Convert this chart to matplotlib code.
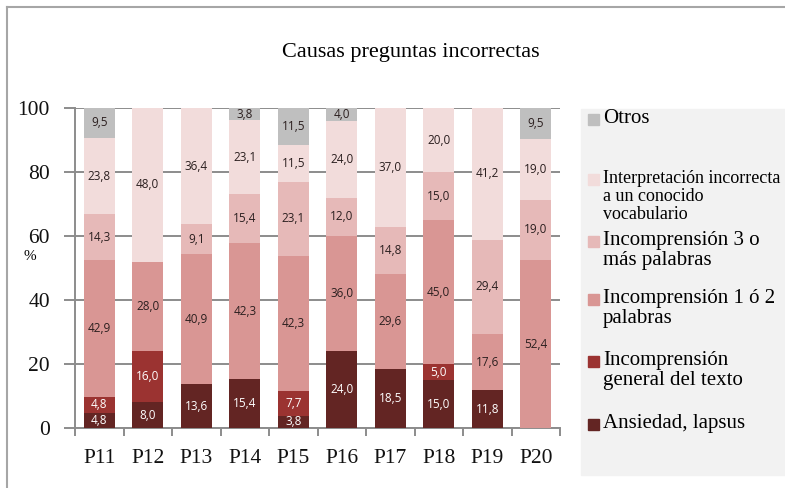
import numpy as np
import matplotlib.pyplot as plt
from matplotlib.patches import Rectangle
from matplotlib.lines import Line2D

# Data (%)
preguntas = ['P11', 'P12', 'P13', 'P14', 'P15', 'P16', 'P17', 'P18', 'P19', 'P20']
ansiedad = [4.8, 8.0, 13.6, 15.4, 3.8, 24.0, 18.5, 15.0, 11.8, 0.0]
general = [4.8, 16.0, 0.0, 0.0, 7.7, 0.0, 0.0, 5.0, 0.0, 0.0]
incomp_1_2 = [42.9, 28.0, 40.9, 42.3, 42.3, 36.0, 29.6, 45.0, 17.6, 52.4]
incomp_3 = [14.3, 0.0, 9.1, 15.4, 23.1, 12.0, 14.8, 15.0, 29.4, 19.0]
interpretacion = [23.8, 48.0, 36.4, 23.1, 11.5, 24.0, 37.0, 20.0, 41.2, 19.0]
otros = [9.5, 0.0, 0.0, 3.8, 11.5, 4.0, 0.0, 0.0, 0.0, 9.5]

series = [ansiedad, general, incomp_1_2, incomp_3, interpretacion, otros]
series_labels = ['Ansiedad, lapsus',
                 'Incomprensión\ngeneral del texto',
                 'Incomprensión 1 ó 2\npalabras',
                 'Incomprensión 3 o\nmás palabras',
                 'Interpretación incorrecta\na un conocido\nvocabulario',
                 'Otros']
colors = ['#632523', '#9b3331', '#d99694', '#e6b9b8', '#f2dcdb', '#bfbfbf']
label_colors = ['white', 'white', '#2b1f1f', '#2b1f1f', '#2b1f1f', '#2b1f1f']

serif = 'Liberation Serif'
W, H = 785, 488

fig = plt.figure(figsize=(W / 100, H / 100), dpi=100)
ax = fig.add_axes([75 / W, 1 - 428 / H, 485 / W, 320 / H])

x = np.arange(len(preguntas))
bottom = np.zeros(len(preguntas))
for vals, col, tcol in zip(series, colors, label_colors):
    vals = np.array(vals)
    ax.bar(x, vals, 0.63, bottom=bottom, color=col, zorder=3)
    for xi, b, v in zip(x, bottom, vals):
        if v > 0:
            ax.text(xi, b + v / 2, f'{v:.1f}'.replace('.', ','), ha='center', va='center',
                    fontsize=8.5, family='Open Sans', color=tcol, zorder=4)
    bottom += vals

ax.set_xlim(-0.5, len(preguntas) - 0.5)
ax.set_ylim(0, 100)
ax.set_yticks(range(0, 101, 20))
ax.yaxis.grid(True, color='#8c8c8c', linewidth=1.4, zorder=0)
ax.set_xticks(x)
ax.set_xticklabels(preguntas)
ax.set_xticks(np.arange(-0.5, len(preguntas)), minor=True)
ax.tick_params(axis='x', which='major', length=0, pad=15)
ax.tick_params(axis='x', which='minor', length=6, width=1.4, color='#8c8c8c')
ax.tick_params(axis='y', length=8, width=1.4, color='#8c8c8c', pad=10)
for lab in ax.get_xticklabels() + ax.get_yticklabels():
    lab.set_family(serif)
    lab.set_fontsize(15.5)
    lab.set_color('#111111')
for s in ['top', 'right']:
    ax.spines[s].set_visible(False)
for s in ['left', 'bottom']:
    ax.spines[s].set_color('#8c8c8c')
    ax.spines[s].set_linewidth(1.4)

fig.text(30 / W, 1 - 257 / H, '%', family=serif, fontsize=11, ha='center', va='center')
fig.text(411 / W, 1 - 53 / H, 'Causas preguntas incorrectas', family=serif, fontsize=16,
         ha='center', va='center')

# figure border
fig.add_artist(Line2D([7 / W, 7 / W], [0, 1 - 7 / H], color='#a6a6a6', lw=1.5))
fig.add_artist(Line2D([7 / W, 1], [1 - 7 / H, 1 - 7 / H], color='#a6a6a6', lw=1.5))

# legend panel
fig.add_artist(Rectangle((581 / W, 1 - 475 / H), (W - 581) / W, 366 / H,
                         transform=fig.transFigure, color='#f2f2f2', zorder=0))
legend_y = [425, 362, 300, 242, 180, 120]
legend_size = [15, 15, 15, 15, 13, 15]
for lab, col, yy, fs in zip(series_labels, colors, legend_y, legend_size):
    fig.add_artist(Rectangle((588 / W, 1 - (yy + 5) / H), 11 / W, 11 / H,
                             transform=fig.transFigure, color=col))
    fig.text(603 / W, 1 - (yy - fs * 0.75) / H, lab, family=serif, fontsize=fs,
             ha='left', va='top', linespacing=1.05 if fs < 15 else 1.1)

fig.savefig('out.png', dpi=100)
